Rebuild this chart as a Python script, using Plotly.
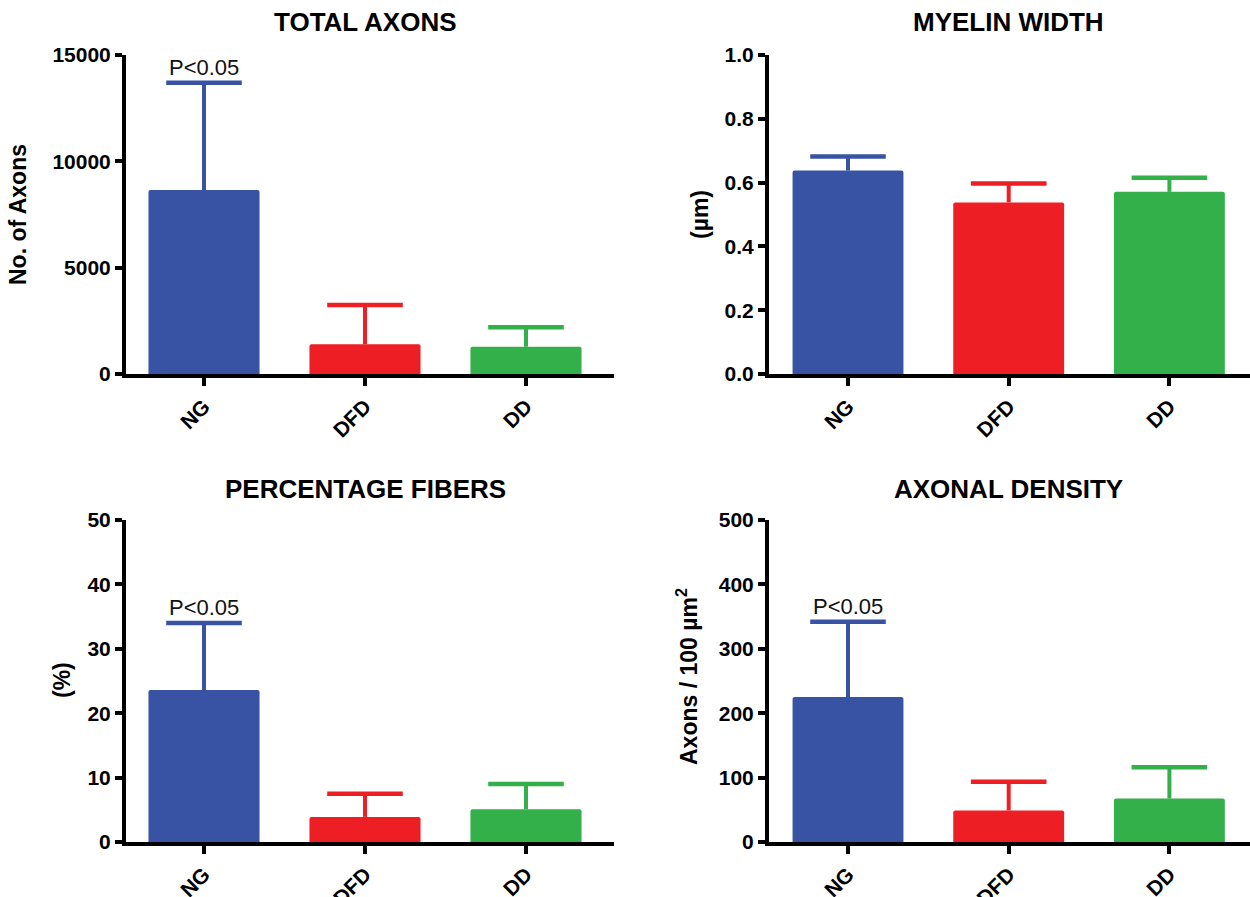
import plotly.graph_objects as go

categories = ["NG", "DFD", "DD"]
colors = ["#3953A4", "#ED1F24", "#33B04A"]

total_axons_mean = [8650, 1400, 1280]
total_axons_err = [5050, 1850, 920]

myelin_mean = [0.638, 0.538, 0.571]
myelin_err = [0.044, 0.059, 0.044]

pct_fibers_mean = [23.6, 3.9, 5.1]
pct_fibers_err = [10.4, 3.6, 3.9]

density_mean = [225, 49, 67.5]
density_err = [117, 44.5, 48.5]

titles = ["TOTAL AXONS", "MYELIN WIDTH", "PERCENTAGE FIBERS", "AXONAL DENSITY"]
ytitles = ["No. of Axons", "(µm)", "(%)", "Axons / 100 µm<sup>2</sup>"]
yticks = [
    [0, 5000, 10000, 15000],
    [0.0, 0.2, 0.4, 0.6, 0.8, 1.0],
    [0, 10, 20, 30, 40, 50],
    [0, 100, 200, 300, 400, 500],
]
ytick_text = [
    ["0", "5000", "10000", "15000"],
    ["0.0", "0.2", "0.4", "0.6", "0.8", "1.0"],
    ["0", "10", "20", "30", "40", "50"],
    ["0", "100", "200", "300", "400", "500"],
]
significant = [True, False, True, True]
sig_label = "P<0.05"

means = [total_axons_mean, myelin_mean, pct_fibers_mean, density_mean]
errs = [total_axons_err, myelin_err, pct_fibers_err, density_err]

W, H = 1250, 897
FONT = "Liberation Sans, Arial, Helvetica, sans-serif"


def px(xv):
    return min(max(xv / W, 0.0), 1.0)


def py(yv):
    return min(max(1 - yv / H, 0.0), 1.0)


LW = 4
# panel geometry in pixels: axis-line x, axis end x, top tick y, zero-line y, first tick x, spacing
panels = [
    (124, 614, 55, 376, 204, 161),
    (767, 1250, 55, 376, 848, 160.7),
    (124, 614, 520, 844, 204, 161),
    (767, 1250, 520, 844, 848, 160.7),
]
title_pos = [(365, 22), (1008, 22), (365, 489), (1008, 489)]
ytitle_pos = [(18, 215), (700, 215), (62, 680), (687, 677)]

fig = go.Figure()
layout = {}
annotations = []

for i in range(4):
    xa = "x" if i == 0 else f"x{i+1}"
    ya = "y" if i == 0 else f"y{i+1}"
    xkey = "xaxis" if i == 0 else f"xaxis{i+1}"
    ykey = "yaxis" if i == 0 else f"yaxis{i+1}"

    fig.add_trace(go.Bar(
        x=categories, y=means[i],
        marker=dict(color=colors, line=dict(width=0), cornerradius=2),
        width=0.69, xaxis=xa, yaxis=ya, showlegend=False, hoverinfo="skip",
    ))
    for j, cat in enumerate(categories):
        fig.add_trace(go.Scatter(
            x=[cat], y=[means[i][j] + errs[i][j]], mode="markers",
            marker=dict(symbol="line-ew", size=54, color=colors[j],
                        line=dict(color=colors[j], width=4.5)),
            error_y=dict(type="data", symmetric=False, array=[0],
                         arrayminus=[errs[i][j]], color=colors[j],
                         thickness=4, width=0),
            xaxis=xa, yaxis=ya, showlegend=False, hoverinfo="skip",
            cliponaxis=False,
        ))

    ax, aend, yt, yb, t0, sp = panels[i]
    x0 = ax + LW / 2
    xr = [-(t0 - x0) / sp, 2 + (aend - (t0 + 2 * sp)) / sp]
    top = yticks[i][-1]
    layout[xkey] = dict(
        domain=[px(x0), px(aend)], anchor=ya, range=xr,
        type="category", categoryorder="array", categoryarray=categories,
        showline=True, linewidth=LW, linecolor="black",
        ticks="outside", ticklen=8, tickwidth=3.5, tickcolor="black",
        tickangle=-45, tickfont=dict(family=FONT, size=21, color="black", weight="bold"),
        showgrid=False, zeroline=False, automargin=False, fixedrange=True,
    )
    layout[ykey] = dict(
        domain=[py(yb - LW / 2), py(yt)], anchor=xa, range=[0, top],
        showline=True, linewidth=LW, linecolor="black",
        ticks="outside", ticklen=7, tickwidth=3.5, tickcolor="black",
        tickvals=yticks[i], ticktext=ytick_text[i],
        tickfont=dict(family=FONT, size=21, color="black", weight="bold"),
        showgrid=False, zeroline=False, automargin=False, fixedrange=True,
    )
    tx, ty = title_pos[i]
    annotations.append(dict(
        text=titles[i], x=px(tx), y=py(ty), xref="paper", yref="paper",
        xanchor="center", yanchor="middle", showarrow=False,
        font=dict(family=FONT, size=26, color="black", weight="bold"),
    ))
    yx, yy = ytitle_pos[i]
    annotations.append(dict(
        text=ytitles[i], x=px(yx), y=py(yy), xref="paper", yref="paper",
        xanchor="center", yanchor="middle", showarrow=False, textangle=-90,
        font=dict(family=FONT, size=23, color="black", weight="bold"),
    ))
    if significant[i]:
        annotations.append(dict(
            text=sig_label, x=categories[0], y=means[i][0] + errs[i][0],
            xref=xa, yref=ya, xanchor="center", yanchor="bottom",
            showarrow=False, yshift=1,
            font=dict(family=FONT, size=22, color="#111111"),
        ))

fig.update_layout(
    width=W, height=H,
    margin=dict(l=0, r=0, t=0, b=0),
    plot_bgcolor="white", paper_bgcolor="white",
    barmode="overlay",
    annotations=annotations,
    **layout,
)

fig.write_html(
    "out.html",
    config={"displayModeBar": False},
    post_script="document.body.style.margin='0';document.body.style.overflow='hidden';",
)
